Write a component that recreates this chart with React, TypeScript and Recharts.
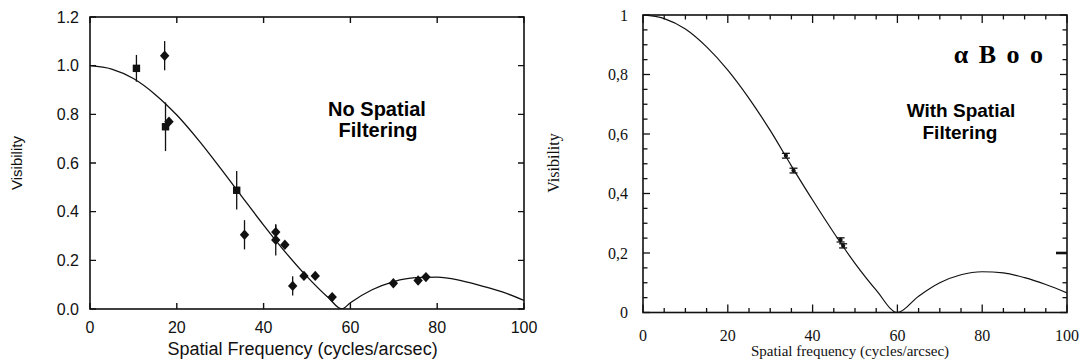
import React from 'react';
import { ComposedChart, Line, Scatter, XAxis, YAxis, ErrorBar } from 'recharts';

// ---------- Left panel: No Spatial Filtering ----------
const leftCurveU = [0, 5, 10, 15, 20, 25, 30, 35, 40, 45, 50, 55, 58, 60, 65, 70, 75, 80, 85, 90, 95, 100];
const leftCurveV = [1.0, 0.986, 0.947, 0.882, 0.797, 0.694, 0.58, 0.462, 0.345, 0.234, 0.133, 0.045, 0.0, 0.026, 0.079, 0.113, 0.129, 0.131, 0.119, 0.096, 0.07, 0.035];

const leftSquareU = [10.7, 17.4, 33.8];
const leftSquareV = [0.989, 0.749, 0.488];
const leftSquareErr = [0.055, 0.1, 0.079];

const leftDiamondU = [17.2, 18.2, 35.6, 42.8, 42.8, 44.9, 46.7, 49.3, 51.9, 55.8, 69.9, 75.6, 77.4];
const leftDiamondV = [1.041, 0.77, 0.305, 0.316, 0.284, 0.264, 0.095, 0.136, 0.136, 0.049, 0.106, 0.117, 0.131];
const leftDiamondErr = [0.06, 0, 0.06, 0.03, 0.064, 0, 0.04, 0, 0, 0, 0, 0, 0];

const leftXTicks = [0, 20, 40, 60, 80, 100];
const leftYTicks = [0, 0.2, 0.4, 0.6, 0.8, 1.0, 1.2];
const leftYLabels = ['0.0', '0.2', '0.4', '0.6', '0.8', '1.0', '1.2'];

// ---------- Right panel: With Spatial Filtering ----------
const rightCurveU = [0, 5, 10, 15, 20, 25, 30, 35, 40, 45, 50, 55, 60, 65, 70, 75, 80, 85, 90, 95, 100];
const rightCurveV = [1.0, 0.988, 0.953, 0.893, 0.815, 0.72, 0.612, 0.493, 0.378, 0.268, 0.165, 0.075, 0.0, 0.055, 0.1, 0.127, 0.137, 0.133, 0.117, 0.094, 0.066];

const rightPointU = [33.7, 35.5, 46.6, 47.2];
const rightPointV = [0.527, 0.477, 0.244, 0.224];
const rightPointErr = [0.008, 0.008, 0.007, 0.007];

const rightXTicks = [0, 5, 10, 15, 20, 25, 30, 35, 40, 45, 50, 55, 60, 65, 70, 75, 80, 85, 90, 95, 100];
const rightXMajor = [0, 20, 40, 60, 80, 100];
const rightYTicks = [0, 0.05, 0.1, 0.15, 0.2, 0.25, 0.3, 0.35, 0.4, 0.45, 0.5, 0.55, 0.6, 0.65, 0.7, 0.75, 0.8, 0.85, 0.9, 0.95, 1.0];
const rightYMajor = [0, 0.2, 0.4, 0.6, 0.8, 1.0];
const rightYLabels = ['0', '0,2', '0,4', '0,6', '0,8', '1'];

// ---------- build tables ----------
const leftCurve = leftCurveU.map((u, i) => ({ u, v: leftCurveV[i] }));
const leftSquares = leftSquareU.map((u, i) => ({ u, v: leftSquareV[i], err: leftSquareErr[i] }));
const leftDiamonds = leftDiamondU.map((u, i) => ({ u, v: leftDiamondV[i], err: leftDiamondErr[i] }));
const rightCurve = rightCurveU.map((u, i) => ({ u, v: rightCurveV[i] }));
const rightPoints = rightPointU.map((u, i) => ({ u, v: rightPointV[i], err: rightPointErr[i] }));

const INK = '#111111';
const SANS = '"Liberation Sans", Arial, Helvetica, sans-serif';
const SERIF = '"Liberation Serif", "Times New Roman", Times, serif';

// plot frames (local chart coordinates)
const LP = { left: 90, right: 524, top: 17, bottom: 309 };
const RP = { left: 103, right: 527, top: 15, bottom: 312.5 };
const RIGHT_OFFSET = 540;

const near = (a: number, b: number) => Math.abs(a - b) < 1e-6;

const LeftXTick = (p: any) => {
  const x = p.x;
  return (
    <g>
      <path d={`M${x},${LP.bottom}V${LP.bottom - 6}M${x},${LP.top}V${LP.top + 6}`} stroke={INK} strokeWidth={1.4} fill="none" />
      <text x={x} y={LP.bottom + 24} textAnchor="middle" fontFamily={SANS} fontSize={16} fill={INK}>
        {p.payload.value}
      </text>
    </g>
  );
};

const LeftYTick = (p: any) => {
  const y = p.y;
  const idx = leftYTicks.findIndex((t) => near(t, p.payload.value));
  return (
    <g>
      <path d={`M${LP.left},${y}H${LP.left + 6}M${LP.right},${y}H${LP.right - 6}`} stroke={INK} strokeWidth={1.4} fill="none" />
      <text x={LP.left - 11} y={y} dy="0.36em" textAnchor="end" fontFamily={SANS} fontSize={16} fill={INK}>
        {idx >= 0 ? leftYLabels[idx] : ''}
      </text>
    </g>
  );
};

const RightXTick = (p: any) => {
  const x = p.x;
  const v = p.payload.value;
  const major = rightXMajor.some((t) => near(t, v));
  const len = major ? 8 : 4.5;
  return (
    <g>
      <path d={`M${x},${RP.bottom}V${RP.bottom - len}M${x},${RP.top}V${RP.top + len}`} stroke={INK} strokeWidth={1.3} fill="none" />
      {major ? (
        <text x={x} y={RP.bottom + 28.5} textAnchor="middle" fontFamily={SERIF} fontSize={16} fill={INK}>
          {v}
        </text>
      ) : null}
    </g>
  );
};

const RightYTick = (p: any) => {
  const y = p.y;
  const v = p.payload.value;
  const idx = rightYMajor.findIndex((t) => near(t, v));
  const major = idx >= 0;
  const len = major ? 7 : 4.5;
  const thick = near(v, 0.2);
  return (
    <g>
      <path d={`M${RP.left},${y}H${RP.left + len}`} stroke={INK} strokeWidth={1.3} fill="none" />
      <path d={`M${RP.right},${y}H${RP.right - (thick ? 11 : len)}`} stroke={INK} strokeWidth={thick ? 2.6 : 1.3} fill="none" />
      {major ? (
        <text x={RP.left - 15} y={y} dy="0.36em" textAnchor="end" fontFamily={SERIF} fontSize={16} fill={INK}>
          {rightYLabels[idx]}
        </text>
      ) : null}
    </g>
  );
};

const SquareShape = (p: any) => (
  <rect x={p.cx - 3.7} y={p.cy - 3.7} width={7.4} height={7.4} fill={INK} />
);
const DiamondShape = (p: any) => (
  <polygon
    points={`${p.cx},${p.cy - 5.2} ${p.cx + 4.7},${p.cy} ${p.cx},${p.cy + 5.2} ${p.cx - 4.7},${p.cy}`}
    fill={INK}
  />
);
const DotShape = (p: any) => <circle cx={p.cx} cy={p.cy} r={2.1} fill={INK} />;

export default function App() {
  return (
    <div style={{ position: 'fixed', left: 0, top: 0, width: 1080, height: 364, background: '#fff', overflow: 'hidden' }}>
      <div style={{ position: 'absolute', left: 0, top: 0 }}>
        <ComposedChart width={540} height={364} data={leftCurve} margin={{ top: 17, right: 16, bottom: 25, left: 50 }}>
          <XAxis dataKey="u" type="number" domain={[0, 100]} ticks={leftXTicks} interval={0} tickLine={false} axisLine={false}
            tickSize={0} tickMargin={0} height={30} tick={(p: any) => <LeftXTick {...p} />} allowDataOverflow />
          <YAxis type="number" domain={[0, 1.2]} ticks={leftYTicks} interval={0} tickLine={false} axisLine={false}
            tickSize={0} tickMargin={0} width={40} tick={(p: any) => <LeftYTick {...p} />} allowDataOverflow />
          <Line dataKey="v" type="monotone" dot={false} stroke={INK} strokeWidth={1.3} isAnimationActive={false} />
          <Scatter data={leftSquares} dataKey="v" shape={SquareShape} isAnimationActive={false}>
            <ErrorBar dataKey="err" direction="y" width={0} stroke={INK} strokeWidth={1.3} />
          </Scatter>
          <Scatter data={leftDiamonds} dataKey="v" shape={DiamondShape} isAnimationActive={false}>
            <ErrorBar dataKey="err" direction="y" width={0} stroke={INK} strokeWidth={1.3} />
          </Scatter>
        </ComposedChart>
      </div>
      <div style={{ position: 'absolute', left: RIGHT_OFFSET, top: 0 }}>
        <ComposedChart width={540} height={364} data={rightCurve} margin={{ top: 15, right: 13, bottom: 21.5, left: 63 }}>
          <XAxis dataKey="u" type="number" domain={[0, 100]} ticks={rightXTicks} interval={0} tickLine={false} axisLine={false}
            tickSize={0} tickMargin={0} height={30} tick={(p: any) => <RightXTick {...p} />} allowDataOverflow />
          <YAxis type="number" domain={[0, 1]} ticks={rightYTicks} interval={0} tickLine={false} axisLine={false}
            tickSize={0} tickMargin={0} width={40} tick={(p: any) => <RightYTick {...p} />} allowDataOverflow />
          <Line dataKey="v" type="monotone" dot={false} stroke={INK} strokeWidth={1.2} isAnimationActive={false} />
          <Scatter data={rightPoints} dataKey="v" shape={DotShape} isAnimationActive={false}>
            <ErrorBar dataKey="err" direction="y" width={4} stroke={INK} strokeWidth={1.3} />
          </Scatter>
        </ComposedChart>
      </div>
      <svg width={1080} height={364} style={{ position: 'absolute', left: 0, top: 0, pointerEvents: 'none' }}>
        <rect x={LP.left} y={LP.top} width={LP.right - LP.left} height={LP.bottom - LP.top} fill="none" stroke={INK} strokeWidth={1.6} />
        <rect x={RP.left + RIGHT_OFFSET} y={RP.top} width={RP.right - RP.left} height={RP.bottom - RP.top} fill="none" stroke={INK} strokeWidth={1.6} />
        {/* left panel texts */}
        <text transform="translate(22,163) rotate(-90)" textAnchor="middle" fontFamily={SANS} fontSize={15} fill={INK}>
          Visibility
        </text>
        <text x={302.6} y={355} textAnchor="middle" fontFamily={SANS} fontSize={18} fill={INK}>
          Spatial Frequency (cycles/arcsec)
        </text>
        <text x={377} y={116} textAnchor="middle" fontFamily={SANS} fontWeight="bold" fontSize={20} fill="#000">
          No Spatial
        </text>
        <text x={378} y={137} textAnchor="middle" fontFamily={SANS} fontWeight="bold" fontSize={20} fill="#000">
          Filtering
        </text>
        {/* right panel texts */}
        <text transform="translate(559,163) rotate(-90)" textAnchor="middle" fontFamily={SERIF} fontSize={16} fill={INK}>
          Visibility
        </text>
        <text x={850} y={356} textAnchor="middle" fontFamily={SERIF} fontSize={15} fill={INK}>
          Spatial frequency (cycles/arcsec)
        </text>
        <text x={961} y={117} textAnchor="middle" fontFamily={SANS} fontWeight="bold" fontSize={19} fill="#000">
          With Spatial
        </text>
        <text x={960} y={139} textAnchor="middle" fontFamily={SANS} fontWeight="bold" fontSize={19} fill="#000">
          Filtering
        </text>
        <text x={1045} y={63} textAnchor="end" fontFamily={SERIF} fontWeight="bold" fontSize={26} letterSpacing={2} fill="#000">
          α B o o
        </text>
      </svg>
    </div>
  );
}
